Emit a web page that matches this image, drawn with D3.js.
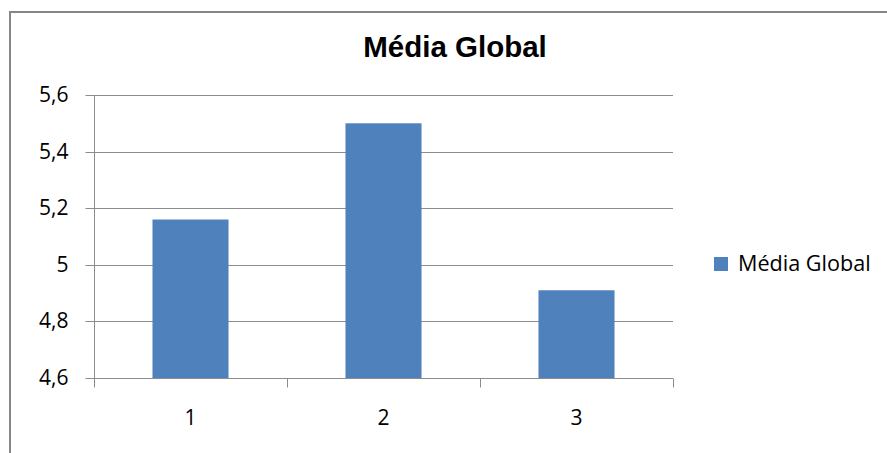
<!DOCTYPE html>
<html>
<head>
<meta charset="utf-8">
<script src="https://cdn.jsdelivr.net/npm/d3@7"></script>
<style>
  body { margin: 0; background: #fff; }
  svg { display: block; }
  .tick text { font-family: "Open Sans", sans-serif; font-size: 21px; fill: #000; }
</style>
</head>
<body>
<div id="chart"></div>
<script>
var width = 887;
var height = 453;

// data
var categories = ["1", "2", "3"];
var values = [5.16, 5.5, 4.91];
var yTicks = [4.6, 4.8, 5, 5.2, 5.4, 5.6];
var seriesName = "Média Global";
var chartTitle = "Média Global";

var plot = {left: 94, right: 673, top: 95, bottom: 378};
var gray = "#8c8c8c";

var svg = d3.select("#chart").append("svg")
  .attr("width", width)
  .attr("height", height);

// outer chart border (runs off the right and bottom edges)
svg.append("rect")
  .attr("x", 10)
  .attr("y", 12)
  .attr("width", width + 20)
  .attr("height", height + 20)
  .attr("fill", "none")
  .attr("stroke", "#868686")
  .attr("stroke-width", 2);

var x = d3.scaleBand()
  .domain(categories)
  .range([plot.left, plot.right])
  .padding(0);

var y = d3.scaleLinear()
  .domain([4.6, 5.6])
  .range([plot.bottom, plot.top]);

var ptBR = d3.formatLocale({decimal: ",", thousands: ".", grouping: [3], currency: ["R$", ""]});
var fmt = ptBR.format("~g");

// gridlines
svg.append("g")
  .selectAll("line")
  .data(yTicks)
  .enter()
  .append("line")
  .attr("x1", plot.left)
  .attr("x2", plot.right)
  .attr("y1", function(d) { return Math.round(y(d)) + 0.5; })
  .attr("y2", function(d) { return Math.round(y(d)) + 0.5; })
  .attr("stroke", gray)
  .attr("stroke-width", 1);

// y axis
var yAxis = svg.append("g")
  .attr("transform", "translate(" + (plot.left + 0.5) + ",0)")
  .call(d3.axisLeft(y).tickValues(yTicks).tickSize(9).tickPadding(17).tickFormat(fmt));
yAxis.selectAll("path, line").attr("stroke", gray);
yAxis.select(".domain").attr("d", "M0," + plot.top + "V" + plot.bottom);
yAxis.selectAll(".tick").attr("transform", function(d) {
  return "translate(0," + (Math.round(y(d)) + 0.5) + ")";
});

// bars
var barW = x.bandwidth() * 0.394;
svg.selectAll("rect.bar")
  .data(values)
  .enter()
  .append("rect")
  .attr("class", "bar")
  .attr("x", function(d, i) { return x(categories[i]) + (x.bandwidth() - barW) / 2; })
  .attr("y", function(d) { return y(d); })
  .attr("width", barW)
  .attr("height", function(d) { return y(4.6) - y(d); })
  .attr("fill", "#4f81bd");

// x axis line + category separator ticks
var xBase = Math.round(plot.bottom) + 0.5;
svg.append("line")
  .attr("x1", plot.left)
  .attr("x2", plot.right)
  .attr("y1", xBase)
  .attr("y2", xBase)
  .attr("stroke", gray);

var bounds = categories.map(function(c) { return x(c); }).concat([plot.right]);
svg.selectAll("line.sep")
  .data(bounds)
  .enter()
  .append("line")
  .attr("class", "sep")
  .attr("x1", function(d) { return Math.round(d) + 0.5; })
  .attr("x2", function(d) { return Math.round(d) + 0.5; })
  .attr("y1", xBase)
  .attr("y2", xBase + 9)
  .attr("stroke", gray);

// x labels
var xAxis = svg.append("g")
  .attr("transform", "translate(0," + xBase + ")")
  .call(d3.axisBottom(x).tickSize(0).tickPadding(32));
xAxis.select(".domain").remove();

// title
svg.append("text")
  .attr("x", 455)
  .attr("y", 57)
  .attr("text-anchor", "middle")
  .style("font-family", "'Liberation Sans', Arial, sans-serif")
  .style("font-weight", "bold")
  .style("font-size", "29.5px")
  .text(chartTitle);

// legend
var legend = svg.append("g");
legend.append("rect")
  .attr("x", 714)
  .attr("y", 257)
  .attr("width", 14)
  .attr("height", 14)
  .attr("fill", "#4f81bd");
legend.append("text")
  .attr("x", 738)
  .attr("y", 271)
  .style("font-family", "'Open Sans', sans-serif")
  .style("font-size", "21.6px")
  .attr("fill", "#000")
  .text(seriesName);
</script>
</body>
</html>
